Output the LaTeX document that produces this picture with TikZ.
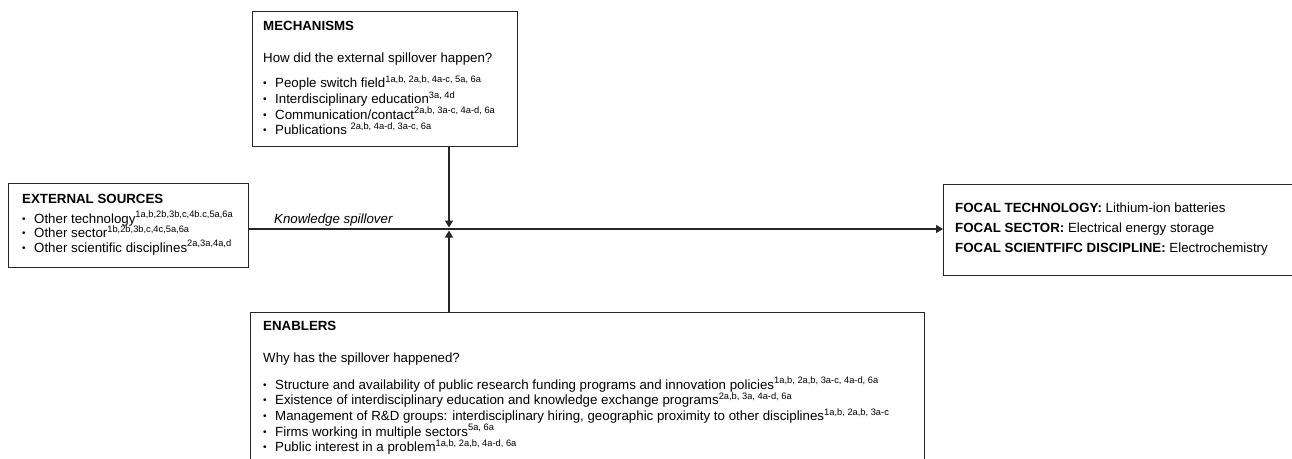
\documentclass[tikz,border=0pt]{standalone}
\usepackage{fontspec}
\setmainfont{Liberation Sans}
\usetikzlibrary{arrows.meta}

\newcommand{\refsup}[1]{\textsuperscript{#1}}
\newcommand{\itm}{\raisebox{0.8pt}{\fontsize{10}{12}\selectfont\textbullet}\hspace{8.5pt}}

\begin{document}
\begin{tikzpicture}[x=1pt, y=-1pt,
    box/.style={draw=black!85, line width=1.1pt, anchor=north west, inner sep=0pt},
    head/.style={anchor=base west, inner sep=0pt, font=\fontsize{13.3}{16}\selectfont\bfseries},
    txt/.style={anchor=base west, inner sep=0pt, font=\fontsize{13.3}{16}\selectfont},
    bul/.style={anchor=base west, inner sep=0pt, font=\fontsize{13.3}{16}\selectfont},
    arr/.style={draw=black!85, line width=1.1pt, -{Triangle[length=7pt,width=8pt]}}]

    \useasboundingbox (0,0) rectangle (1292,458);
    \clip (0,0) rectangle (1292,458);

    % the four boxes
    \node[box, minimum width=265pt, minimum height=135.5pt] (mech) at (252,10.5) {};
    \node[box, minimum width=240pt, minimum height=84pt] (ext) at (8,183) {};
    \node[box, minimum width=380pt, minimum height=91pt] (focal) at (943,184) {};
    \node[box, minimum width=674pt, minimum height=160pt] (enab) at (250,312) {};

    % mechanisms
    \node[head] (mechtitle) at (263,30) {MECHANISMS};
    \node[txt] (mechq) at (263,62) {How did the external spillover happen?};
    \node[bul] (mecha) at (263,87.7) {\itm People switch field\refsup{1a,b, 2a,b, 4a-c, 5a, 6a}};
    \node[bul] (mechb) at (263,103.3) {\itm Interdisciplinary education\refsup{3a, 4d}};
    \node[bul] (mechc) at (263,119) {\itm Communication/contact\refsup{2a,b, 3a-c, 4a-d, 6a}};
    \node[bul] (mechd) at (263,134.3) {\itm Publications \refsup{2a,b, 4a-d, 3a-c, 6a}};

    % external sources
    \node[head] (exttitle) at (22,203.5) {EXTERNAL SOURCES};
    \node[bul] (exta) at (22,223) {\itm Other technology\refsup{1a,b,2b,3b,c,4b.c,5a,6a}};
    \node[bul] (extb) at (22,237.5) {\itm Other sector\refsup{1b,2b,3b,c,4c,5a,6a}};
    \node[bul] (extc) at (22,252) {\itm Other scientific disciplines\refsup{2a,3a,4a,d}};

    % focal
    \node[txt] (focala) at (955,212.5) {\textbf{FOCAL TECHNOLOGY:} Lithium-ion batteries};
    \node[txt] (focalb) at (955,232.5) {\textbf{FOCAL SECTOR:} Electrical energy storage};
    \node[txt] (focalc) at (955,252.5) {\textbf{FOCAL SCIENTFIFC DISCIPLINE:} Electrochemistry};

    % enablers
    \node[head] (enabtitle) at (263,330.7) {ENABLERS};
    \node[txt] (enabq) at (263,362.7) {Why has the spillover happened?};
    \node[bul] (enaba) at (263,389) {\itm Structure and availability of public research funding programs and innovation policies\refsup{1a,b, 2a,b, 3a-c, 4a-d, 6a}};
    \node[bul] (enabb) at (263,404.5) {\itm Existence of interdisciplinary education and knowledge exchange programs\refsup{2a,b, 3a, 4a-d, 6a}};
    \node[bul] (enabc) at (263,420.3) {\itm Management of R\&D groups: interdisciplinary hiring, geographic proximity to other disciplines\refsup{1a,b, 2a,b, 3a-c}};
    \node[bul] (enabd) at (263,436) {\itm Firms working in multiple sectors\refsup{5a, 6a}};
    \node[bul] (enabe) at (263,451.7) {\itm Public interest in a problem\refsup{1a,b, 2a,b, 4a-d, 6a}};

    % connectors
    \coordinate (hub) at (449,229);
    \draw[arr] (ext.east |- hub) -- (focal.west |- hub);
    \node[txt, font=\fontsize{13.3}{16}\selectfont\itshape] (kslabel) at (274,223.3) {Knowledge spillover};
    \draw[arr] (mech.south -| hub) -- ([yshift=1.5pt]hub);
    \draw[arr] (enab.north -| hub) -- ([yshift=-1.5pt]hub);

\end{tikzpicture}
\end{document}
